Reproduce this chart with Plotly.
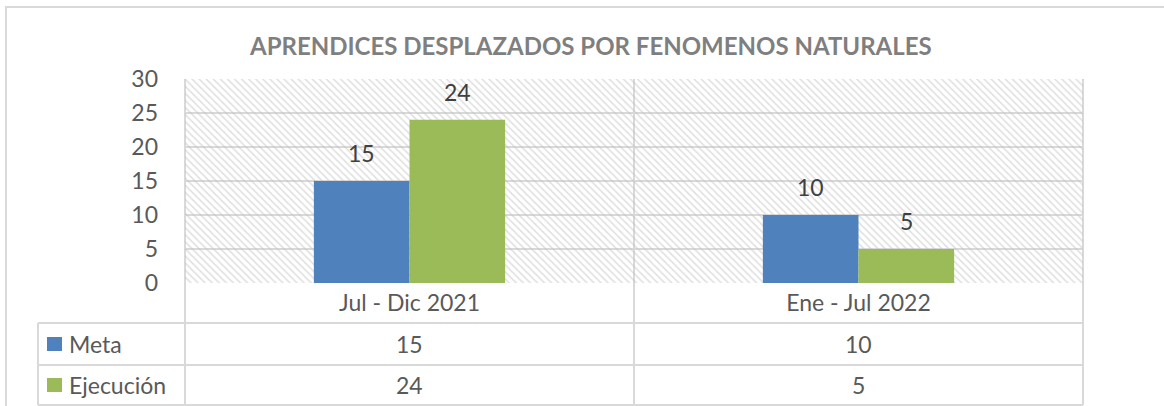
import plotly.graph_objects as go

# ---- data ----
categories = ["Jul - Dic 2021", "Ene - Jul 2022"]
meta = [15, 10]
ejecucion = [24, 5]
series_names = ["Meta", "Ejecución"]
y_max = 30
y_step = 5
title_text = "APRENDICES DESPLAZADOS POR FENOMENOS NATURALES"

# ---- layout helpers (pixel geometry of the figure) ----
W, H = 1164, 406
PL, PR, PT, PB = 185, 1083, 79, 283   # plot area in px
FONT = "Lato, Open Sans, sans-serif"
TXT = "#404040"
LBL = "#595959"
GRID = "#d9d9d9"
BLUE = "#4f81bd"
GREEN = "#9bbb59"
FS = 23

def px(x):
    return (x - PL) / (PR - PL)

def py(y):
    return (PB - y) / (PB - PT)

xs = list(range(len(categories)))
bw = 0.213

fig = go.Figure()
# hatched plot-area background
fig.add_trace(go.Bar(
    x=[(xs[0] + xs[-1]) / 2], y=[y_max], width=[len(categories)],
    marker=dict(color="rgba(0,0,0,0)", line=dict(width=0),
                pattern=dict(shape="\\", fgcolor="#c0c0c0", bgcolor="rgba(0,0,0,0)",
                             size=5, solidity=0.3)),
    hoverinfo="skip", showlegend=False))
fig.add_trace(go.Bar(
    x=xs, y=meta, name=series_names[0], width=bw, offset=-bw,
    marker=dict(color=BLUE, line=dict(width=0)), showlegend=False))
fig.add_trace(go.Bar(
    x=xs, y=ejecucion, name=series_names[1], width=bw, offset=0,
    marker=dict(color=GREEN, line=dict(width=0)), showlegend=False))

shapes = []
line = dict(color=GRID, width=2)
# outer chart border
shapes.append(dict(type="rect", xref="paper", yref="paper",
                   x0=px(6), x1=px(1175), y0=py(420), y1=py(7), line=line, layer="below"))
# table horizontal lines
for yy in [323, 365, 405]:
    shapes.append(dict(type="line", xref="paper", yref="paper",
                       x0=px(38), x1=px(PR), y0=py(yy), y1=py(yy), line=line))
# table vertical lines
for xx in [PL, (PL + PR) / 2, PR]:
    shapes.append(dict(type="line", xref="paper", yref="paper",
                       x0=px(xx), x1=px(xx), y0=py(405), y1=1, line=line, layer="below"))
shapes.append(dict(type="line", xref="paper", yref="paper",
                   x0=px(38), x1=px(38), y0=py(405), y1=py(323), line=line))

annotations = []
# title
annotations.append(dict(text="<b>" + title_text + "</b>", xref="paper", yref="paper",
                        x=px(590), y=py(46), showarrow=False, xanchor="center", yanchor="middle",
                        font=dict(size=24, color="#7f7f7f", family=FONT)))
# data labels above bars
for vals, off in [(meta, -bw / 2), (ejecucion, bw / 2)]:
    for i, v in enumerate(vals):
        annotations.append(dict(text=str(v), xref="x", yref="y", x=xs[i] + off, y=v,
                                xanchor="center", yanchor="bottom", yshift=12, showarrow=False,
                                font=dict(size=FS, color=TXT, family=FONT)))
# data table
rows = [meta, ejecucion]
colors = [BLUE, GREEN]
row_centers = [344, 385]
for vals, name, col, yc in zip(rows, series_names, colors, row_centers):
    shapes.append(dict(type="rect", xref="paper", yref="paper",
                       x0=px(47), x1=px(62), y0=py(yc + 7), y1=py(yc - 7),
                       fillcolor=col, line=dict(width=0)))
    annotations.append(dict(text=name, xref="paper", yref="paper", x=px(67), y=py(yc),
                            xanchor="left", yanchor="middle", showarrow=False,
                            font=dict(size=FS, color=LBL, family=FONT)))
    for i, v in enumerate(vals):
        annotations.append(dict(text=str(v), xref="x", yref="paper", x=xs[i], y=py(yc),
                                xanchor="center", yanchor="middle", showarrow=False,
                                font=dict(size=FS, color=LBL, family=FONT)))

fig.update_layout(
    width=W, height=H,
    margin=dict(l=PL, r=W - PR, t=PT, b=H - PB, pad=0),
    paper_bgcolor="white", plot_bgcolor="white",
    barmode="overlay",
    showlegend=False,
    shapes=shapes, annotations=annotations,
    xaxis=dict(range=[-0.5, len(categories) - 0.5], tickvals=xs, ticktext=categories,
               showgrid=False, zeroline=False, showline=False, ticks="",
               ticklabelstandoff=4,
               tickfont=dict(size=FS, color=LBL, family=FONT), fixedrange=True),
    yaxis=dict(range=[0, y_max], dtick=y_step, tick0=0, showgrid=True, gridcolor=GRID,
               gridwidth=2, zeroline=False, showline=False, ticks="",
               ticklabelstandoff=26,
               tickfont=dict(size=FS, color=LBL, family=FONT), fixedrange=True),
)

fig.write_html("out.html", config={"displayModeBar": False},
               post_script="document.body.style.margin='0px';")
